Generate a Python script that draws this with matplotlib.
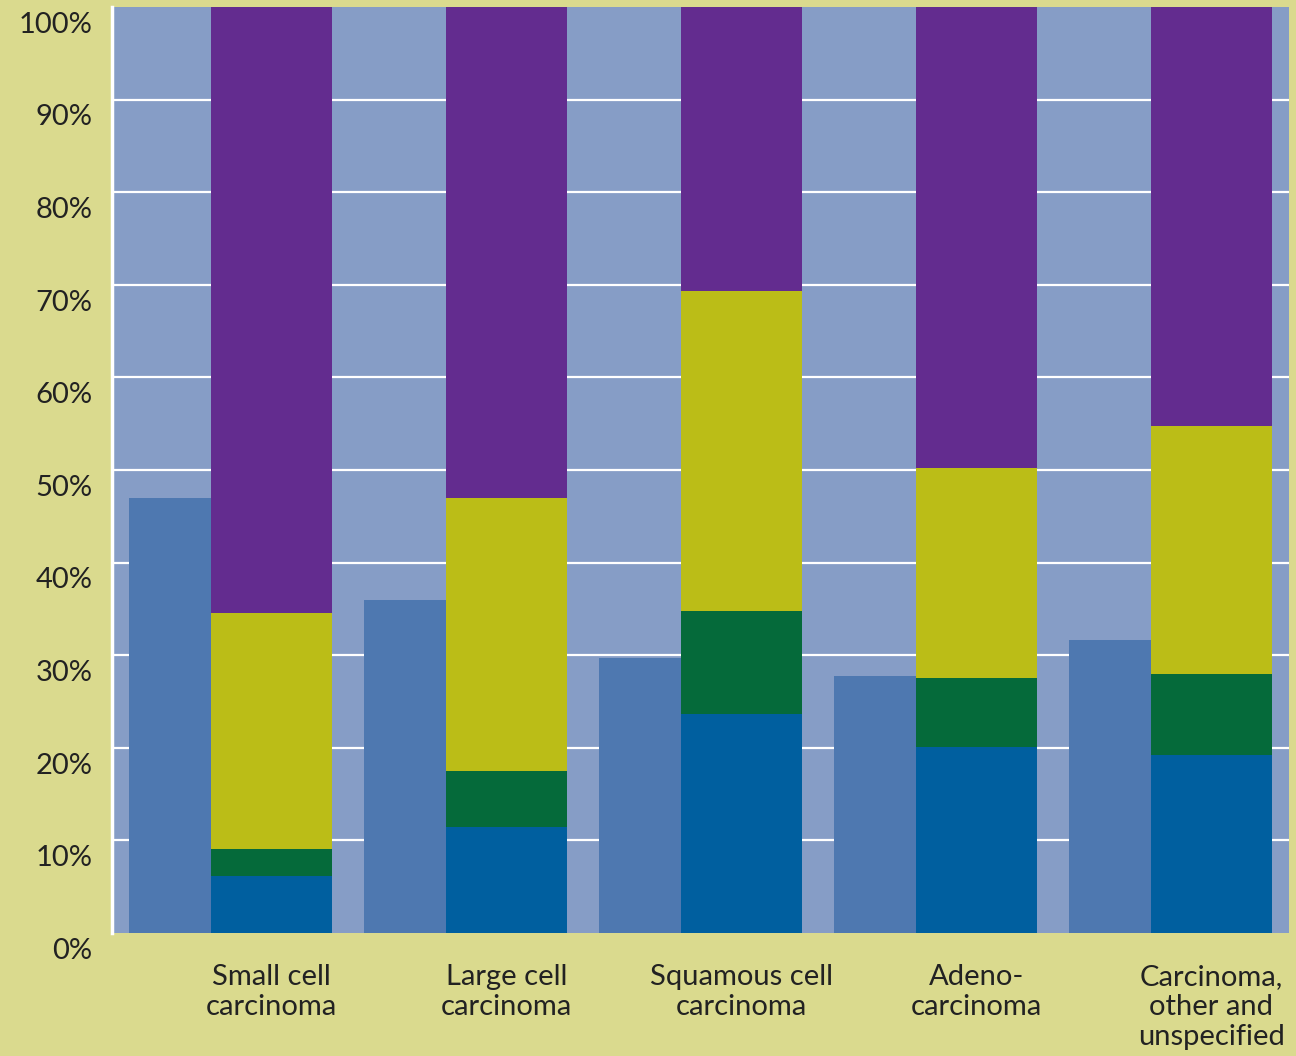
import numpy as np
import matplotlib.pyplot as plt
import matplotlib.transforms as mtransforms

# Datos (porcentajes)
categorias = ["Small cell\ncarcinoma", "Large cell\ncarcinoma", "Squamous cell\ncarcinoma",
              "Adeno-\ncarcinoma", "Carcinoma,\nother and\nunspecified"]
barra_simple = [47.0, 36.0, 29.7, 27.8, 31.6]
azul = [6.2, 11.5, 23.6, 20.1, 19.2]
verde = [2.9, 6.0, 11.2, 7.4, 8.8]
oliva = [25.5, 29.5, 34.5, 22.7, 26.8]
morado = [65.4, 53.0, 30.7, 49.8, 45.2]
ticks_y = np.arange(0, 101, 10)

fondo = "#dada8e"
fondo_ejes = "#869dc6"
c_simple = "#4e78b0"
colores = ["#005f9f", "#056a3a", "#bbbd17", "#632c8f"]

fig = plt.figure(figsize=(12.96, 10.56), dpi=100, facecolor=fondo)
ax = fig.add_axes([112 / 1296, 1 - 933 / 1056, (1289 - 112) / 1296, (933 - 7) / 1056])
ax.set_facecolor(fondo_ejes)

x = np.arange(len(categorias))
ancho_s = 82 / 235
ancho_p = 121 / 235
desp = (60.5 + 41) / 235

# líneas blancas de la rejilla (sin la de 0% ni la de 100%)
for t in ticks_y[1:-1]:
    ax.axhline(t, color="white", linewidth=1.6, zorder=1)

ax.bar(x - desp, barra_simple, width=ancho_s, color=c_simple, zorder=3)
base = np.zeros(len(categorias))
for serie, col in zip([azul, verde, oliva, morado], colores):
    ax.bar(x, serie, width=ancho_p, bottom=base, color=col, zorder=3)
    base = base + np.array(serie)

ax.set_xlim(-0.679, 4.33)
ax.set_ylim(0, 100)
ax.set_yticks(ticks_y)
ax.set_yticklabels([f"{t}%" for t in ticks_y])

ax.set_xticks(x)
ax.set_xticklabels(categorias, family=["Lato", "DejaVu Sans"],
                   fontsize=21, color="#222222", linespacing=1.2, va="top")
ax.tick_params(axis="x", length=0, pad=22)
ax.tick_params(axis="y", length=0, pad=14, labelsize=21, labelcolor="#222222")

# etiquetas del eje y un poco más abajo, como en el original
desplazamiento = mtransforms.ScaledTranslation(0, -11 / 72, fig.dpi_scale_trans)
for lab in ax.get_yticklabels():
    lab.set_family(["Lato", "DejaVu Sans"])
    lab.set_transform(lab.get_transform() + desplazamiento)

for lado in ["top", "right", "bottom"]:
    ax.spines[lado].set_visible(False)
ax.spines["left"].set_color("white")
ax.spines["left"].set_linewidth(2.5)
ax.spines["left"].set_zorder(4)

plt.savefig("out.png", facecolor=fondo)
